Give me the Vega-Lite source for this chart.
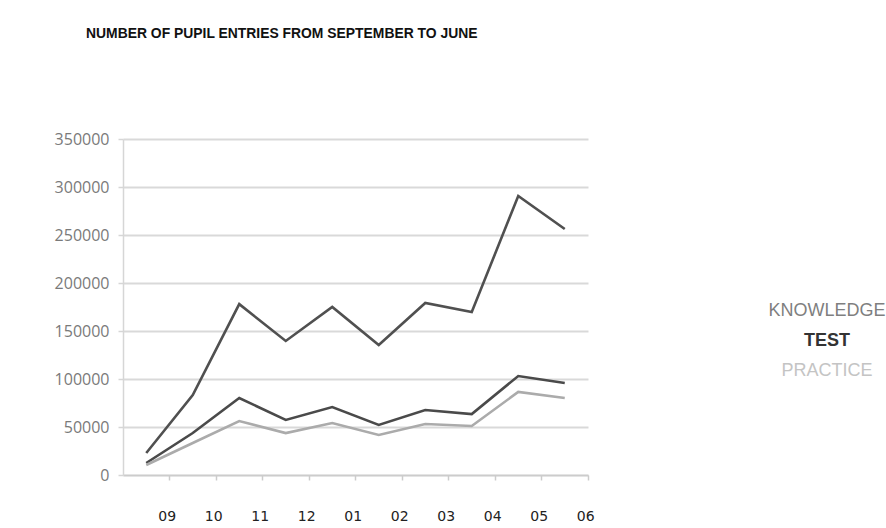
{
  "$schema": "https://vega.github.io/schema/vega-lite/v6.json",
  "width": 465,
  "height": 336,
  "autosize": {"type": "none"},
  "padding": {"left": 123, "top": 139, "right": 298, "bottom": 53},
  "background": "white",
  "title": {
    "text": "NUMBER OF PUPIL ENTRIES FROM SEPTEMBER TO JUNE",
    "anchor": "start",
    "frame": "group",
    "dx": -37,
    "offset": 90,
    "font": "Liberation Sans, sans-serif",
    "fontSize": 13.9,
    "fontWeight": "bold",
    "color": "#111111"
  },
  "data": {
    "values": [
      {"month": "09", "series": "KNOWLEDGE", "value": 22900},
      {"month": "10", "series": "KNOWLEDGE", "value": 83300},
      {"month": "11", "series": "KNOWLEDGE", "value": 178000},
      {"month": "12", "series": "KNOWLEDGE", "value": 139600},
      {"month": "01", "series": "KNOWLEDGE", "value": 175000},
      {"month": "02", "series": "KNOWLEDGE", "value": 135400},
      {"month": "03", "series": "KNOWLEDGE", "value": 179200},
      {"month": "04", "series": "KNOWLEDGE", "value": 169800},
      {"month": "05", "series": "KNOWLEDGE", "value": 290600},
      {"month": "06", "series": "KNOWLEDGE", "value": 256200},
      {"month": "09", "series": "TEST", "value": 12500},
      {"month": "10", "series": "TEST", "value": 43750},
      {"month": "11", "series": "TEST", "value": 80200},
      {"month": "12", "series": "TEST", "value": 57300},
      {"month": "01", "series": "TEST", "value": 70800},
      {"month": "02", "series": "TEST", "value": 52100},
      {"month": "03", "series": "TEST", "value": 67700},
      {"month": "04", "series": "TEST", "value": 63500},
      {"month": "05", "series": "TEST", "value": 103100},
      {"month": "06", "series": "TEST", "value": 95800},
      {"month": "09", "series": "PRACTICE", "value": 10400},
      {"month": "10", "series": "PRACTICE", "value": 33300},
      {"month": "11", "series": "PRACTICE", "value": 56200},
      {"month": "12", "series": "PRACTICE", "value": 43700},
      {"month": "01", "series": "PRACTICE", "value": 54200},
      {"month": "02", "series": "PRACTICE", "value": 41700},
      {"month": "03", "series": "PRACTICE", "value": 53100},
      {"month": "04", "series": "PRACTICE", "value": 51000},
      {"month": "05", "series": "PRACTICE", "value": 86500},
      {"month": "06", "series": "PRACTICE", "value": 80200}
    ]
  },
  "mark": {"type": "line", "strokeWidth": 2.6, "strokeJoin": "miter"},
  "encoding": {
    "x": {
      "field": "month",
      "type": "ordinal",
      "sort": null,
      "scale": {"type": "band", "paddingInner": 0, "paddingOuter": 0},
      "axis": {
        "title": null,
        "bandPosition": 1,
        "labelAngle": 0,
        "labelOffset": 21,
        "labelPadding": 29,
        "labelFont": "DejaVu Sans",
        "labelFontSize": 14,
        "labelColor": "#222222",
        "tickColor": "#cccccc",
        "tickSize": 5,
        "tickWidth": 1.5,
        "domainColor": "#cccccc",
        "domainWidth": 1.5,
        "grid": false
      }
    },
    "y": {
      "field": "value",
      "type": "quantitative",
      "scale": {"domain": [0, 350000], "nice": false},
      "axis": {
        "title": null,
        "values": [0, 50000, 100000, 150000, 200000, 250000, 300000, 350000],
        "format": "d",
        "labelFont": "Open Sans",
        "labelFontSize": 16,
        "labelColor": "#7a7a7a",
        "labelPadding": 9,
        "tickColor": "#d6d6d6",
        "tickSize": 5,
        "tickWidth": 1.5,
        "domainColor": "#d6d6d6",
        "domainWidth": 1.5,
        "grid": true,
        "gridColor": "#d9d9d9",
        "gridWidth": 1.8
      }
    },
    "color": {
      "field": "series",
      "type": "nominal",
      "scale": {
        "domain": ["KNOWLEDGE", "TEST", "PRACTICE"],
        "range": ["#505050", "#4a4a4a", "#ababab"]
      },
      "legend": {
        "title": null,
        "orient": "none",
        "legendX": 686,
        "legendY": 163,
        "symbolSize": 0,
        "symbolOpacity": 0,
        "symbolStrokeWidth": 0,
        "labelOffset": 0,
        "labelAlign": "center",
        "labelFont": "Liberation Sans",
        "labelFontSize": 18,
        "labelLimit": 300,
        "rowPadding": 12,
        "labelColor": {"expr": "datum.value == 'TEST' ? '#333333' : datum.value == 'PRACTICE' ? '#c4c4c4' : '#7f7f7f'"},
        "labelFontWeight": {"expr": "datum.value == 'TEST' ? 'bold' : 'normal'"}
      }
    }
  },
  "config": {"view": {"stroke": null}}
}
